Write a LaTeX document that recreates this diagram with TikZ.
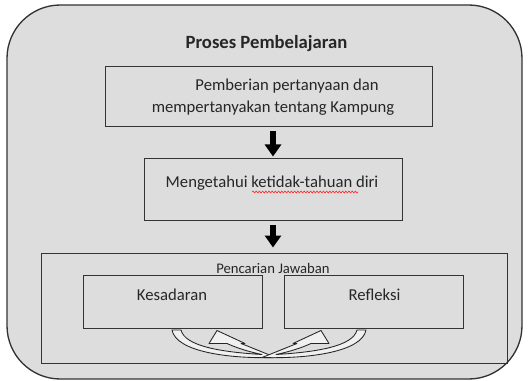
\documentclass[tikz,border=0pt]{standalone}
\usepackage{fontspec}
\setmainfont{Carlito}
\usetikzlibrary{arrows.meta,decorations.pathmorphing}
\definecolor{bggray}{HTML}{DDDDDD}
\definecolor{linegray}{HTML}{333333}
\begin{document}
\begin{tikzpicture}[x=0.75pt,y=-0.75pt,
  outerbox/.style={draw=linegray, line width=1pt, fill=bggray, rounded corners=40pt, inner sep=0pt},
  boxnode/.style={draw=linegray, line width=0.75pt, inner sep=0pt},
  txt/.style={inner sep=0pt, font=\fontsize{12.5}{15}\selectfont, text=black!85},
  blockarr/.style={line width=4pt, black, -{Triangle[width=12pt,length=9pt]}},
  curvarr/.pic={
    \filldraw[fill=white!94!black, draw=black!85, line width=0.65pt, line join=round]
      (-97,330) .. controls (-93,352) and (-39,359) .. (7,357.5)
      .. controls (-7,352) and (-19,347) .. (-28,343.5)
      -- (-24,343.5) -- (-52,330.5) -- (-60,343.5) -- (-42,343.5)
      .. controls (-31,348.5) and (-19,352) .. (-7,354.5)
      .. controls (-49,352) and (-84,346) .. (-88,330) -- cycle;
  }]
\path[use as bounding box] (0,0) rectangle (528,381);
\node[outerbox, minimum width=386.25pt, minimum height=280.5pt] (frame) at (264.5,192) {};
\node[txt, font=\fontsize{14}{16}\selectfont\bfseries] (title) at (266.5,44) {Proses Pembelajaran};
% box 1
\node[boxnode, minimum width=245.25pt, minimum height=45pt] (b1) at (268.5,97) {};
\node[txt] (t1a) at (287,86) {Pemberian pertanyaan dan};
\node[txt] (t1b) at (273,108) {mempertanyakan tentang Kampung};
% box 2
\node[boxnode, minimum width=193.5pt, minimum height=45.75pt] (b2) at (273,189.5) {};
\node[txt] (t2) at (272,183) {Mengetahui ketidak-tahuan diri};
\draw[red!85, line width=0.45pt, decorate, decoration={snake, amplitude=0.7pt, segment length=2.4pt}] (252,192) -- (358,192);
% box 3
\node[boxnode, minimum width=349.5pt, minimum height=82.5pt] (b3) at (274,308) {};
\node[txt, font=\fontsize{11}{13}\selectfont] (t3) at (273,268) {Pencarian Jawaban};
\node[boxnode, minimum width=134.25pt, minimum height=39.75pt] (k) at (172.5,301.5) {};
\node[txt] (tk) at (172,294.5) {Kesadaran};
\node[boxnode, minimum width=134.25pt, minimum height=39.75pt] (r) at (373.5,301.5) {};
\node[txt] (tr) at (374.5,294.5) {Refleksi};
% arrows
\draw[blockarr] ([yshift=-3pt]b2.north |- b1.south) -- ([yshift=1.5pt]b2.north);
\draw[blockarr] ([yshift=-3pt]b2.south) -- ([yshift=3.75pt]b2.south |- b3.north);
\pic at (269,0) {curvarr};
\pic[xscale=-1] at (269,0) {curvarr};
\end{tikzpicture}
\end{document}
